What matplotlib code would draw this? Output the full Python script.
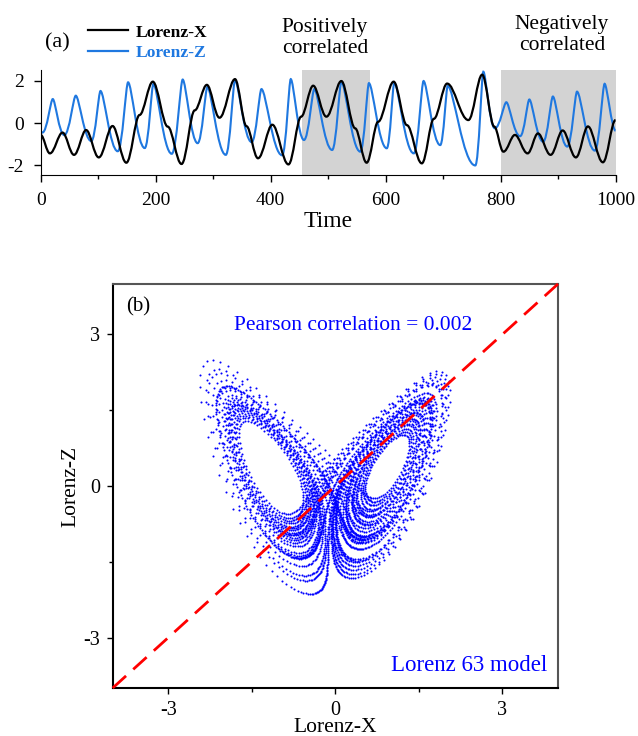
import numpy as np
import matplotlib
matplotlib.use('Agg')
import matplotlib.pyplot as plt
from matplotlib.path import Path
from matplotlib.patches import PathPatch

plt.rcParams['font.family'] = ['Liberation Serif', 'DejaVu Serif']
plt.rcParams['axes.unicode_minus'] = False

# ---- panel (a): extrema of the two standardised series
x_t = [0, 16, 38, 58, 79, 101, 125, 149, 172, 195, 221, 245, 268, 289, 311, 338,
       358, 378, 403, 431, 453, 474, 497, 523, 547, 567, 587, 614, 637, 663, 684,
       707, 744, 768, 789, 805, 825, 847, 865, 887, 908, 931, 952, 978, 1000]
x_v = [-0.56, -1.43, -0.45, -1.5, -0.33, -1.62, -0.14, -1.87, 0.38, 1.95, -0.17,
       -1.93, 0.6, 1.8, 0.25, 2.07, -0.15, -1.66, -0.08, -1.95, 0.3, 1.76, 0.3,
       1.98, -0.25, -1.87, 0.06, 1.95, -0.1, -1.9, 0.2, 1.86, 0.14, 2.28, -0.17,
       -1.35, -0.56, -1.43, -0.49, -1.5, -0.35, -1.62, -0.16, -1.85, 0.14]

z_t = [0, 3, 21, 41, 61, 88, 104, 134, 152, 181, 196, 228, 247, 273, 290, 322,
       338, 367, 384, 420, 435, 458, 476, 507, 523, 556, 571, 602, 615, 649, 666,
       695, 708, 756, 770, 790, 810, 834, 850, 874, 891, 916, 933, 964, 981, 1000]
z_v = [-0.4, -0.45, 1.13, -0.57, 1.29, -0.85, 1.51, -1.33, 1.92, -1.18, 1.85,
       -1.45, 2.05, -0.95, 1.7, -1.5, 2.03, -0.9, 1.6, -1.52, 2.07, -0.8, 1.6,
       -1.27, 1.95, -1.35, 1.88, -1.19, 1.9, -1.43, 1.98, -1.04, 1.75, -2.0,
       2.42, -0.25, 0.98, -0.62, 1.11, -0.88, 1.25, -1.11, 1.48, -1.3, 1.85, -0.36]

pos_span = [454, 572]
neg_span = [800, 1000]

# ---- panel (b): Lorenz 63 model
sigma, rho, beta = 10.0, 28.0, 8.0 / 3.0
dt = 0.01
n_spin = 2000
n_keep = 4000
state0 = [1.0, 1.0, 1.0]
diag = [-4, 4]


def lorenz_rhs(s):
    x, y, z = s
    return np.array([sigma * (y - x), x * (rho - z) - y, x * y - beta * z])


def run_lorenz():
    s = np.array(state0)
    out = np.zeros((n_keep, 3))
    for i in range(n_spin + n_keep):
        k1 = lorenz_rhs(s)
        k2 = lorenz_rhs(s + 0.5 * dt * k1)
        k3 = lorenz_rhs(s + 0.5 * dt * k2)
        k4 = lorenz_rhs(s + dt * k3)
        s = s + dt / 6.0 * (k1 + 2 * k2 + 2 * k3 + k4)
        if i >= n_spin:
            out[i - n_spin] = s
    return out


def smooth_path(ts, vs, h_peak, h_trough):
    '''Bezier path through extrema, flat tangent at every point'''
    def handle(i):
        if 0 < i < len(vs) - 1:
            if vs[i] > vs[i - 1] and vs[i] > vs[i + 1]:
                return h_peak
            if vs[i] < vs[i - 1] and vs[i] < vs[i + 1]:
                return h_trough
        return 0.35
    verts = [(ts[0], vs[0])]
    codes = [Path.MOVETO]
    for i in range(len(ts) - 1):
        w = ts[i + 1] - ts[i]
        verts += [(ts[i] + handle(i) * w, vs[i]),
                  (ts[i + 1] - handle(i + 1) * w, vs[i + 1]),
                  (ts[i + 1], vs[i + 1])]
        codes += [Path.CURVE4] * 3
    return Path(verts, codes)


fig = plt.figure(figsize=(6.38, 7.36), dpi=100)

# ---------------- (a)
ax1 = fig.add_axes([0.0638, 0.7622, 0.901, 0.1427])
ax1.axvspan(pos_span[0], pos_span[1], color='#d3d3d3', lw=0, zorder=0)
ax1.axvspan(neg_span[0], neg_span[1], color='#d3d3d3', lw=0, zorder=0)
blue = '#1f78e0'
ax1.add_patch(PathPatch(smooth_path(z_t, z_v, 0.22, 0.45), fill=False,
                        edgecolor=blue, lw=1.5, zorder=2))
ax1.add_patch(PathPatch(smooth_path(x_t, x_v, 0.35, 0.38), fill=False,
                        edgecolor='black', lw=1.6, zorder=3))
ax1.plot([], [], color='black', lw=1.6, label='Lorenz-X')
ax1.plot([], [], color=blue, lw=1.6, label='Lorenz-Z')
ax1.set_xlim(0, 1000)
ax1.set_ylim(-2.45, 2.5)
ax1.set_xticks([0, 200, 400, 600, 800, 1000])
ax1.set_xticks([100, 300, 500, 700, 900], minor=True)
ax1.set_yticks([-2, 0, 2])
ax1.spines['top'].set_visible(False)
ax1.spines['right'].set_visible(False)
ax1.tick_params(labelsize=14, direction='out', length=5, width=1, pad=7)
ax1.tick_params(which='minor', length=3, width=1)
ax1.set_xlabel('Time', fontsize=17, labelpad=2)

leg = ax1.legend(loc='upper left', bbox_to_anchor=(0.138, 0.967),
                 bbox_transform=fig.transFigure, frameon=False,
                 prop={'weight': 'bold', 'size': 12.6}, handlelength=2.3,
                 handletextpad=0.4, labelspacing=0.25, borderpad=0,
                 borderaxespad=0)
leg.get_texts()[0].set_color('black')
leg.get_texts()[1].set_color(blue)

fig.text(57 / 638, 1 - 43 / 736, '(a)', fontsize=16, ha='center', va='center')
fig.text(325 / 638, 1 - 38 / 736, 'Positively\ncorrelated', fontsize=15.5,
         ha='center', va='center', linespacing=1.1)
fig.text(562 / 638, 1 - 35 / 736, 'Negatively\ncorrelated', fontsize=15.5,
         ha='center', va='center', linespacing=1.1)

# ---------------- (b)
traj = run_lorenz()
lx = (traj[:, 0] - traj[:, 0].mean()) / traj[:, 0].std()
lz = (traj[:, 2] - traj[:, 2].mean()) / traj[:, 2].std()

ax2 = fig.add_axes([0.1766, 0.0652, 0.698, 0.549])
ax2.scatter(lx, lz, s=2.2, color='blue', lw=0, zorder=2)
ax2.plot(diag, diag, color='red', lw=2, ls=(0, (6.5, 3.5)), zorder=3,
         clip_on=False)
ax2.set_xlim(-4, 4)
ax2.set_ylim(-4, 4)
ax2.set_xticks([-3, 0, 3])
ax2.set_yticks([-3, 0, 3])
ax2.set_xticks([-1.5, 1.5], minor=True)
ax2.set_yticks([-1.5, 1.5], minor=True)
for sp in ax2.spines.values():
    sp.set_color('#555555')
    sp.set_linewidth(1.5)
ax2.spines['left'].set_color('black')
ax2.spines['bottom'].set_color('black')
ax2.tick_params(labelsize=14.5, direction='out', length=4, width=1, pad=5)
ax2.tick_params(which='minor', length=3, width=1)
ax2.set_xlabel('Lorenz-X', fontsize=15.5, labelpad=-1)
ax2.set_ylabel('Lorenz-Z', fontsize=15.5, labelpad=2)
ax2.text(0.03, 0.967, '(b)', transform=ax2.transAxes, fontsize=15,
         ha='left', va='top')
ax2.text(0.32, 3.18, 'Pearson correlation = 0.002', color='blue',
         fontsize=15.5, ha='center', va='center')
ax2.text(3.8, -3.56, 'Lorenz 63 model', color='blue', fontsize=16.5,
         ha='right', va='center')

fig.savefig('out.png', dpi=100)
